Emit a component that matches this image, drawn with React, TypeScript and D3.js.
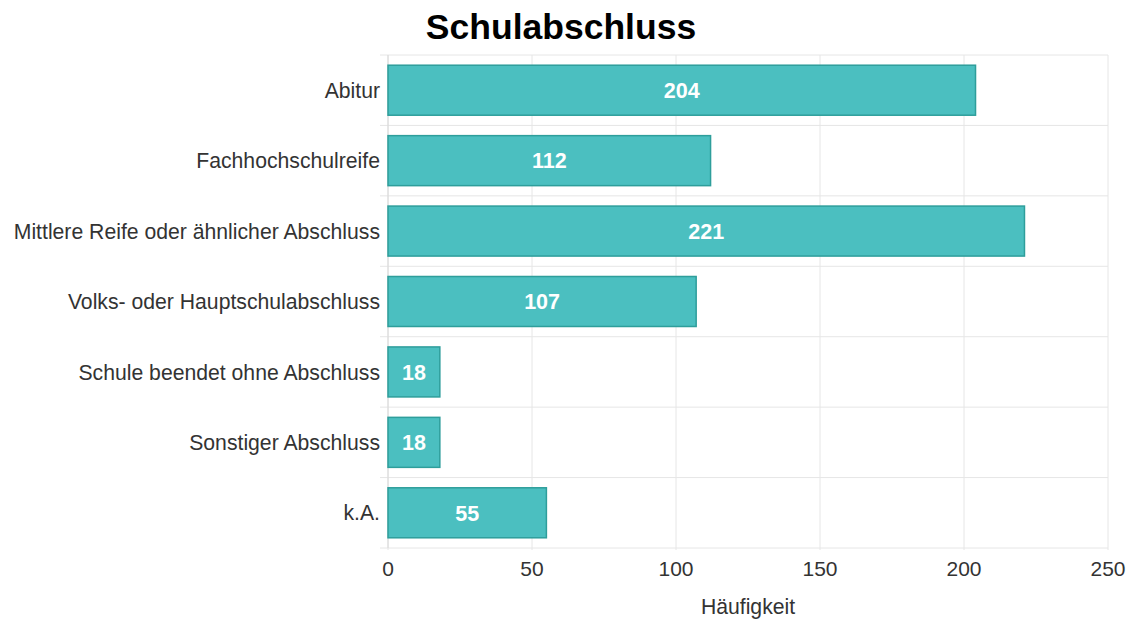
import React from "react";
import * as d3 from "d3";

const categories = [
  "Abitur",
  "Fachhochschulreife",
  "Mittlere Reife oder ähnlicher Abschluss",
  "Volks- oder Hauptschulabschluss",
  "Schule beendet ohne Abschluss",
  "Sonstiger Abschluss",
  "k.A.",
];
const values = [204, 112, 221, 107, 18, 18, 55];
const xTicks = [0, 50, 100, 150, 200, 250];
const title = "Schulabschluss";
const xTitle = "Häufigkeit";

const W = 1135;
const H = 621;
const M = { left: 388, right: 1108, top: 55, bottom: 548 };
const FONT = "'Liberation Sans', Arial, Helvetica, sans-serif";

export default function App() {
  const x = d3.scaleLinear().domain([0, 250]).range([M.left, M.right]);
  const y = d3
    .scaleBand<string>()
    .domain(categories)
    .range([M.top, M.bottom])
    .paddingInner(0.29)
    .paddingOuter(0.145);
  const step = y.step();
  const bounds = d3.range(categories.length + 1).map((i) => M.top + i * step);

  return (
    <svg
      width={W}
      height={H}
      style={{ position: "absolute", left: 0, top: 0, background: "#fff" }}
      fontFamily={FONT}
    >
      <text x={561} y={39} textAnchor="middle" fontSize={35.5} fontWeight="bold" fill="#000">
        {title}
      </text>
      {xTicks.map((t) => (
        <line key={"v" + t} x1={x(t)} x2={x(t)} y1={M.top} y2={M.bottom + 2} stroke="#e6e6e6" strokeWidth={1} />
      ))}
      {bounds.map((b, i) => (
        <line key={"h" + i} x1={M.left - 8} x2={M.right} y1={b} y2={b} stroke="#e6e6e6" strokeWidth={1} />
      ))}
      <line x1={M.left} x2={M.left} y1={M.top} y2={M.bottom} stroke="#d8d8d8" strokeWidth={1} />
      {categories.map((c, i) => (
        <g key={c}>
          <rect
            x={x(0)}
            y={y(c)!}
            width={x(values[i]) - x(0)}
            height={y.bandwidth()}
            fill="#4bbfc0"
            stroke="#2e9e9b"
            strokeWidth={1.5}
          />
          <text
            x={(x(0) + x(values[i])) / 2}
            y={y(c)! + y.bandwidth() / 2}
            dy="0.36em"
            textAnchor="middle"
            fill="#fff"
            fontWeight="bold"
            fontSize={21.5}
          >
            {values[i]}
          </text>
          <text
            x={M.left - 8}
            y={y(c)! + y.bandwidth() / 2}
            dy="0.36em"
            textAnchor="end"
            fill="#333"
            fontSize={21.2}
          >
            {c}
          </text>
        </g>
      ))}
      {xTicks.map((t) => (
        <text key={"t" + t} x={x(t)} y={576} textAnchor="middle" fill="#333" fontSize={21}>
          {t}
        </text>
      ))}
      <text x={(M.left + M.right) / 2} y={614} textAnchor="middle" fill="#333" fontSize={21.2}>
        {xTitle}
      </text>
    </svg>
  );
}
